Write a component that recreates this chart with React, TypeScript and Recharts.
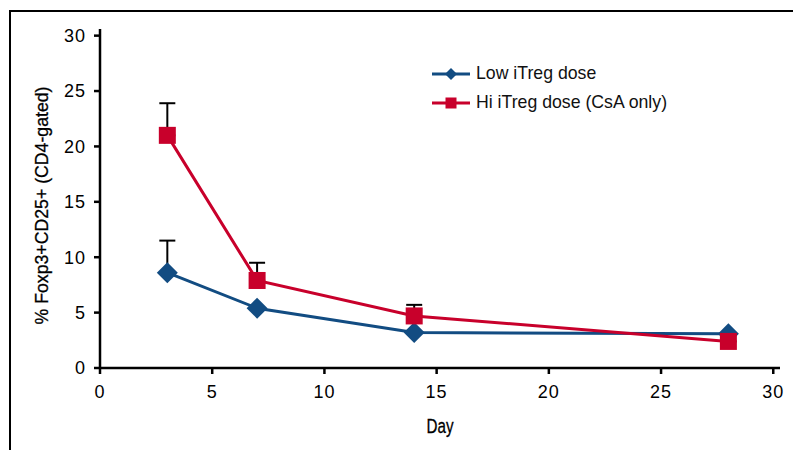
import React from "react";
import { LineChart, Line, XAxis, YAxis, ErrorBar } from "recharts";

// Values
const days = [3, 7, 14, 28];
const lowDose = [8.6, 5.4, 3.2, 3.1];
const lowDoseErr = [2.9, 0, 0, 0];
const hiDose = [21.0, 7.9, 4.7, 2.4];
const hiDoseErr = [2.9, 1.6, 1.0, 0];
const xTicks = [0, 5, 10, 15, 20, 25, 30];
const yTicks = [0, 5, 10, 15, 20, 25, 30];

const BLUE = "#124c82";
const RED = "#c8002b";
const FONT = "'Liberation Sans', Arial, sans-serif";

const chartData = days.map((d, i) => ({
  day: d,
  low: lowDose[i],
  lowErr: [0, lowDoseErr[i]],
  hi: hiDose[i],
  hiErr: [0, hiDoseErr[i]],
}));

const Diamond = ({ cx, cy, r = 10, fill }: any) => {
  if (cx == null || cy == null) return null;
  return (
    <polygon
      points={`${cx},${cy - r} ${cx + r},${cy} ${cx},${cy + r} ${cx - r},${cy}`}
      fill={fill}
    />
  );
};

const Square = ({ cx, cy, s = 17, fill }: any) => {
  if (cx == null || cy == null) return null;
  return <rect x={cx - s / 2} y={cy - s / 2} width={s} height={s} fill={fill} />;
};

// condensed axis titles, squeezed to the reference's length
const DayLabel = ({ viewBox }: any) => {
  if (!viewBox) return null;
  const cx = viewBox.x + viewBox.width / 2;
  return (
    <text
      x={cx}
      y={viewBox.y + 65}
      textAnchor="middle"
      fontFamily={FONT}
      fontSize={20}
      textLength={27}
      lengthAdjust="spacingAndGlyphs"
      fill="#000"
      stroke="#000"
      strokeWidth={0.3}
    >
      Day
    </text>
  );
};

const YLabel = ({ viewBox }: any) => {
  if (!viewBox) return null;
  const cx = 48;
  const cy = viewBox.y + viewBox.height / 2 + 7;
  return (
    <text
      x={0}
      y={0}
      transform={`translate(${cx},${cy}) rotate(-90)`}
      textAnchor="middle"
      fontFamily={FONT}
      fontSize={19}
      textLength={238}
      lengthAdjust="spacingAndGlyphs"
      fill="#000"
      stroke="#000"
      strokeWidth={0.3}
    >
      % Foxp3+CD25+ (CD4-gated)
    </text>
  );
};

const legendItems = [
  { label: "Low iTreg dose", color: BLUE, shape: "d" },
  { label: "Hi iTreg dose (CsA only)", color: RED, shape: "s" },
];

export default function App() {
  return (
    <div
      style={{
        position: "absolute",
        left: 0,
        top: 0,
        width: 793,
        height: 450,
        overflow: "hidden",
        background: "#fff",
      }}
    >
      {/* figure frame */}
      <div
        style={{
          position: "absolute",
          left: 9,
          top: 10,
          width: 900,
          height: 600,
          borderLeft: "2px solid #000",
          borderTop: "2px solid #000",
        }}
      />
      <div style={{ position: "absolute", left: 0, top: 0 }}>
        <LineChart
          width={793}
          height={450}
          data={chartData}
          margin={{ top: 29, right: 13, left: 0, bottom: 0 }}
        >
          <XAxis
            dataKey="day"
            type="number"
            domain={[0, 30.3]}
            ticks={xTicks}
            allowDataOverflow
            height={82}
            stroke="#000"
            strokeWidth={2.5}
            tickSize={6}
            tickMargin={11}
            tick={{ fill: "#000", fontSize: 18, fontFamily: FONT, letterSpacing: 1 }}
            label={<DayLabel />}
          />
          <YAxis
            type="number"
            domain={[0, 30.6]}
            ticks={yTicks}
            allowDataOverflow
            width={100}
            stroke="#000"
            strokeWidth={2.5}
            tickSize={6}
            tickMargin={8}
            tick={{ fill: "#000", fontSize: 18, fontFamily: FONT, letterSpacing: 1 }}
            label={<YLabel />}
          />
          <Line
            dataKey="low"
            stroke={BLUE}
            strokeWidth={3}
            dot={<Diamond r={10.5} fill={BLUE} />}
            activeDot={false}
            isAnimationActive={false}
          >
            <ErrorBar
              dataKey="lowErr"
              direction="y"
              width={8}
              stroke="#000"
              strokeWidth={2}
              isAnimationActive={false}
            />
          </Line>
          <Line
            dataKey="hi"
            stroke={RED}
            strokeWidth={3}
            dot={<Square s={17} fill={RED} />}
            activeDot={false}
            isAnimationActive={false}
          >
            <ErrorBar
              dataKey="hiErr"
              direction="y"
              width={8}
              stroke="#000"
              strokeWidth={2}
              isAnimationActive={false}
            />
          </Line>
        </LineChart>
      </div>
      {/* legend */}
      <div
        style={{
          position: "absolute",
          left: 431,
          top: 59,
          fontFamily: FONT,
          fontSize: 17.7,
          color: "#111",
        }}
      >
        {legendItems.map((item) => (
          <div
            key={item.label}
            style={{ display: "flex", alignItems: "center", height: 29 }}
          >
            <svg width={40} height={16} style={{ marginRight: 5 }}>
              <line x1={1} y1={8} x2={39} y2={8} stroke={item.color} strokeWidth={3} />
              {item.shape === "d" ? (
                <Diamond cx={20} cy={8} r={6} fill={item.color} />
              ) : (
                <Square cx={20} cy={8} s={11} fill={item.color} />
              )}
            </svg>
            <span style={{ whiteSpace: "nowrap" }}>{item.label}</span>
          </div>
        ))}
      </div>
    </div>
  );
}
